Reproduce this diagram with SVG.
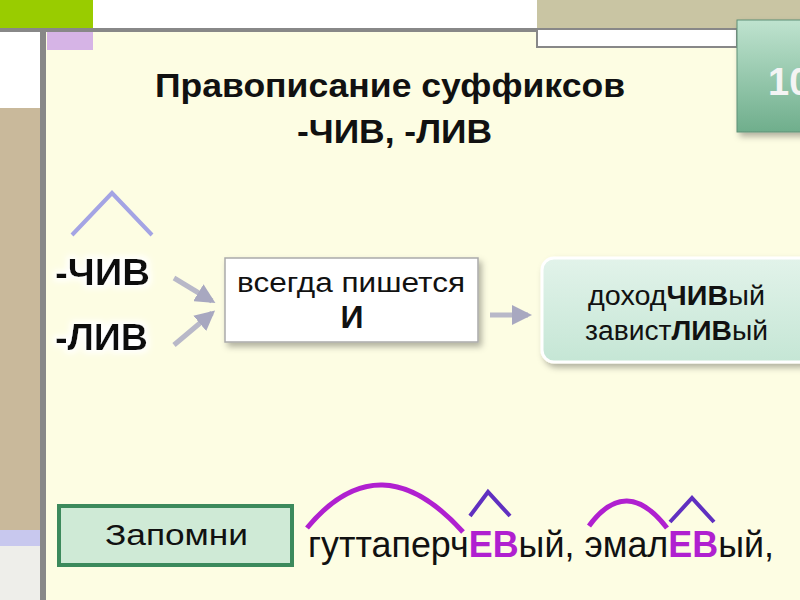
<svg xmlns="http://www.w3.org/2000/svg" width="800" height="600" viewBox="0 0 800 600">
<defs>
<style>
text{font-family:"Liberation Sans",Arial,sans-serif;fill:#111}
.b{font-weight:bold}
.c{text-anchor:middle}
.p{fill:#b020d0;font-weight:bold}
.k{font-weight:bold}
.arc{fill:none;stroke:#b020d0;stroke-width:5}
.car{fill:none;stroke:#6030c0;stroke-width:4}
.ar{stroke:#b8b8c8;stroke-width:5;fill:none}
</style>
<linearGradient id="tab" x1="0" y1="0" x2="0" y2="1"><stop offset="0" stop-color="#bfe3cf"/><stop offset="1" stop-color="#6fae8c"/></linearGradient>
<linearGradient id="g2" x1="0" y1="0" x2="0" y2="1"><stop offset="0" stop-color="#e2f3ea"/><stop offset="1" stop-color="#c5e6d5"/></linearGradient>
<marker id="m" viewBox="0 0 10 10" refX="8" refY="5" markerWidth="4" markerHeight="4" orient="auto"><path d="M0,0L10,5L0,10z" fill="#a8a8c0"/></marker>
<filter id="sh" x="-10%" y="-10%" width="130%" height="140%"><feDropShadow dx="3" dy="4" stdDeviation="3" flood-color="#000" flood-opacity="0.3"/></filter>
<filter id="glow"><feMorphology operator="dilate" radius="3" in="SourceAlpha" result="d"/><feGaussianBlur in="d" stdDeviation="3" result="bl"/><feFlood flood-color="#fff"/><feComposite in2="bl" operator="in" result="w"/><feMerge><feMergeNode in="w"/><feMergeNode in="SourceGraphic"/></feMerge></filter>
</defs>
<rect width="800" height="600" fill="#fdfde3"/>
<g id="frame">
<rect x="0" y="0" width="93" height="29" fill="#99cc00"/>
<rect x="93" y="0" width="444" height="29" fill="#fff"/>
<rect x="537" y="0" width="263" height="29" fill="#c9c5a3"/>
<rect x="537" y="29" width="200" height="18" fill="#fff" stroke="#888" stroke-width="2"/>
<rect x="0" y="28" width="537" height="4" fill="#888"/>
<rect x="0" y="32" width="40" height="76" fill="#fff"/>
<rect x="0" y="108" width="40" height="422" fill="#c9b99b"/>
<rect x="0" y="530" width="40" height="16" fill="#c8c8ee"/>
<rect x="0" y="546" width="40" height="54" fill="#eeeeea"/>
<rect x="40" y="28" width="6" height="572" fill="#888"/>
<rect x="47" y="32" width="46" height="18" fill="#d6b4e6"/>
<rect x="737" y="20" width="70" height="112" fill="url(#tab)" stroke="#5e8f76" stroke-width="1" filter="url(#sh)"/>
<text x="768" y="95" class="b" font-size="38" style="fill:#f4f4f4">10</text>
</g>
<g id="title">
<text x="155" y="97" class="b" font-size="33" textLength="470" lengthAdjust="spacingAndGlyphs">Правописание суффиксов</text>
<text x="297" y="143" class="b" font-size="33" textLength="195" lengthAdjust="spacingAndGlyphs">-ЧИВ, -ЛИВ</text>
</g>
<g id="suffixes">
<path d="M72,235L112,193L152,235" fill="none" stroke="#a4a4e4" stroke-width="4"/>
<g filter="url(#glow)">
<text x="55" y="285" class="b" font-size="37" textLength="95" lengthAdjust="spacingAndGlyphs">-ЧИВ</text>
<text x="55" y="350" class="b" font-size="37" textLength="93" lengthAdjust="spacingAndGlyphs">-ЛИВ</text>
</g>
</g>
<g id="connectors">
<line class="ar" x1="174" y1="278" x2="212" y2="301" marker-end="url(#m)"/>
<line class="ar" x1="174" y1="345" x2="212" y2="313" marker-end="url(#m)"/>
<line class="ar" x1="490" y1="315" x2="528" y2="315" marker-end="url(#m)"/>
</g>
<g id="rule">
<rect x="225" y="258" width="253" height="84" fill="#fff" stroke="#aaa" stroke-width="1.5" filter="url(#sh)"/>
<text x="237" y="292" font-size="27" textLength="228" lengthAdjust="spacingAndGlyphs">всегда пишется</text>
<text x="352" y="328" class="b c" font-size="32">И</text>
</g>
<g id="examples">
<rect x="542" y="258" width="270" height="104" rx="12" fill="url(#g2)" stroke="#fff" stroke-width="3" filter="url(#sh)"/>
<text x="588" y="305" font-size="27" textLength="177" lengthAdjust="spacingAndGlyphs">доход<tspan class="k">ЧИВ</tspan>ый</text>
<text x="585" y="340" font-size="27" textLength="183" lengthAdjust="spacingAndGlyphs">завист<tspan class="k">ЛИВ</tspan>ый</text>
</g>
<g id="remember">
<rect x="59" y="506" width="233" height="59" fill="#cfead6" stroke="#3c8a5c" stroke-width="4"/>
<text x="105" y="545" font-size="29" textLength="143" lengthAdjust="spacingAndGlyphs">Запомни</text>
</g>
<g id="words">
<path class="arc" d="M307,528Q380,440 463,532"/>
<path class="car" d="M470,516L488,492L510,516"/>
<path class="arc" d="M589,526Q626,475 667,528"/>
<path class="car" d="M670,522L692,498L714,522"/>
<text x="308" y="557" font-size="37" textLength="466" lengthAdjust="spacingAndGlyphs">гуттаперч<tspan class="p">ЕВ</tspan>ый, эмал<tspan class="p">ЕВ</tspan>ый,</text>
</g>
</svg>
